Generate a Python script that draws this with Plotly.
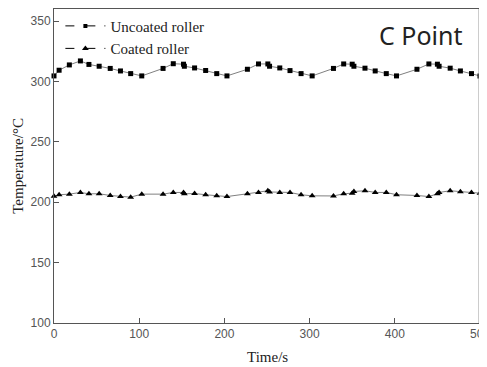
import plotly.graph_objects as go

time_s = [0, 6, 18, 31, 41, 53, 66, 78, 90, 103, 128, 140, 152, 153, 165, 178, 191, 203,
          227, 240, 251, 253, 265, 277, 290, 303, 328, 340, 350, 352, 365, 377, 390, 402,
          426, 440, 450, 452, 465, 477, 490, 500]

uncoated = [304.6, 309.3, 313.7, 317.0, 314.1, 312.6, 310.8, 308.7, 306.5, 304.6,
            310.8, 314.7, 314.3, 312.6, 311.2, 309.1, 306.5, 304.6,
            310.1, 314.5, 314.5, 312.6, 311.2, 309.0, 306.5, 304.6,
            310.8, 314.5, 314.3, 312.6, 311.0, 308.7, 306.5, 304.6,
            310.1, 314.5, 314.3, 312.6, 311.0, 308.7, 306.5, 304.6]

coated = [205.0, 206.2, 206.7, 208.1, 207.0, 207.0, 205.6, 204.7, 204.2, 206.7,
          206.7, 208.1, 208.1, 207.0, 207.2, 206.2, 205.3, 204.7,
          207.0, 208.1, 209.5, 208.5, 208.1, 208.1, 206.2, 205.3,
          205.2, 207.0, 207.5, 208.9, 209.5, 208.1, 208.1, 206.2,
          205.6, 204.7, 207.0, 208.1, 209.5, 208.7, 208.1, 207.5]

x_ticks = [0, 100, 200, 300, 400, 500]
y_ticks = [100, 150, 200, 250, 300, 350]

fig = go.Figure()

fig.add_trace(go.Scatter(x=time_s, y=uncoated, mode="lines+markers", showlegend=False,
                         line=dict(color="#808080", width=1),
                         marker=dict(symbol="square", size=5, color="black"),
                         cliponaxis=False))
fig.add_trace(go.Scatter(x=time_s, y=coated, mode="lines+markers", showlegend=False,
                         line=dict(color="#808080", width=1),
                         marker=dict(symbol="triangle-up", size=6, color="black"),
                         cliponaxis=False))

# legend entries
fig.add_trace(go.Scatter(x=[None], y=[None], mode="lines+markers", name="Uncoated roller",
                         line=dict(color="black", width=1, dash="9px,12px,9px"),
                         marker=dict(symbol="square", size=4, color="black")))
fig.add_trace(go.Scatter(x=[None], y=[None], mode="lines+markers", name="Coated roller",
                         line=dict(color="black", width=1, dash="9px,12px,9px"),
                         marker=dict(symbol="triangle-up", size=6, color="black")))

axis_common = dict(showline=True, linecolor="#555555", linewidth=1, mirror=True,
                   ticks="inside", ticklen=5, tickcolor="#555555", showgrid=False,
                   zeroline=False, automargin=False, ticklabeloverflow="allow",
                   tickfont=dict(family="Liberation Sans, Arial", size=12, color="#555555"))

fig.update_xaxes(range=[0, 500], tickvals=x_ticks, **axis_common)
fig.update_yaxes(range=[100, 360], tickvals=y_ticks, **axis_common)

# the page body adds an 8px offset; the figure is sized to fit the window
fig.update_layout(
    width=479, height=359,
    margin=dict(l=46, r=7, t=1, b=44, autoexpand=False),
    plot_bgcolor="white", paper_bgcolor="white",
    legend=dict(x=0.015, y=0.998, xanchor="left", yanchor="top",
                font=dict(family="Liberation Serif, Times New Roman", size=15, color="#222222"),
                bgcolor="rgba(0,0,0,0)", itemwidth=40, tracegroupgap=0),
    shapes=[dict(type="line", xref="paper", yref="paper", x0=1, x1=1, y0=0, y1=1,
                 line=dict(color="#999999", width=3))],
    annotations=[
        dict(text="C Point", xref="paper", yref="paper", x=0.962, y=0.917,
             xanchor="right", yanchor="middle", showarrow=False,
             font=dict(family="Noto Sans, Open Sans", size=25, color="#222222")),
        dict(text="Time/s", xref="paper", yref="paper", x=0.5, y=-0.078,
             xanchor="center", yanchor="top", showarrow=False,
             font=dict(family="Liberation Serif, Times New Roman", size=15, color="#222222")),
        dict(text="Temperature/°C", xref="paper", yref="paper", x=-0.085, y=0.5,
             xanchor="center", yanchor="middle", textangle=-90, showarrow=False,
             font=dict(family="Liberation Serif, Times New Roman", size=15, color="#222222")),
    ],
)

fig.write_html("out.html")
